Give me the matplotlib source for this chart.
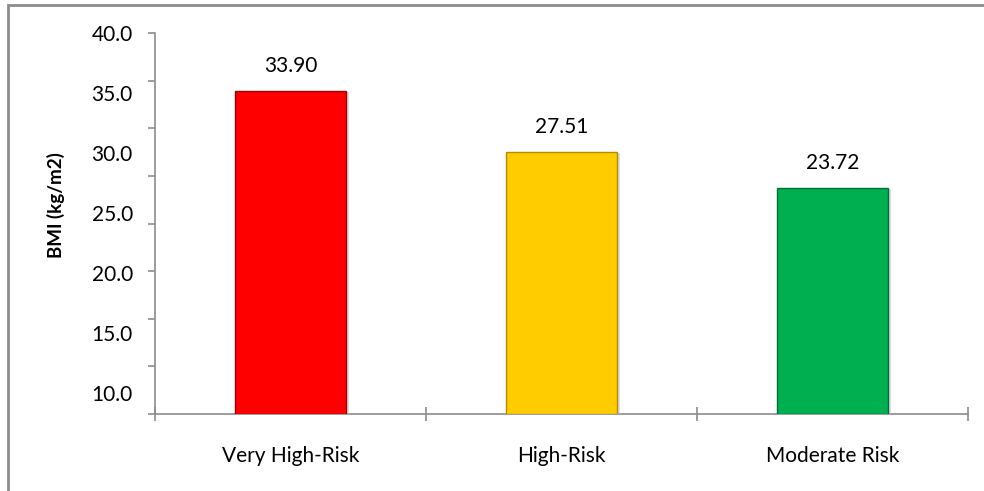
import matplotlib.pyplot as plt
import matplotlib.patheffects as pe
import numpy as np
from matplotlib.patches import Rectangle

plt.rcParams["font.family"] = ["Lato", "DejaVu Sans"]

groups = ["Very High-Risk", "High-Risk", "Moderate Risk"]
bmi = [33.90, 27.51, 23.72]
bar_colors = ["#ff0000", "#ffcc00", "#00b050"]
edge_colors = ["#a00000", "#b08c00", "#00703a"]

# axis scale and the (unevenly placed) labels printed along it
y_ticks = np.arange(0, 41, 5)
y_label_pos = [39.98, 33.7, 27.4, 21.1, 14.8, 8.5, 2.2]
y_label_txt = ["40.0", "35.0", "30.0", "25.0", "20.0", "15.0", "10.0"]

fig = plt.figure(figsize=(9.84, 4.91), dpi=100)
ax = fig.add_axes([155 / 984, 1 - 414 / 491, (968 - 155) / 984, (414 - 33) / 491])

# chart-area frame
fig.patches.append(Rectangle((8 / 984, -0.1), 1.2, 1 - 5 / 491 + 0.1,
                             transform=fig.transFigure, fill=False,
                             edgecolor="#8c8c8c", linewidth=2))

x = np.arange(len(groups))
bars = ax.bar(x, bmi, width=0.41, color=bar_colors, edgecolor=edge_colors,
              linewidth=1.0, zorder=3)
for b in bars:
    b.set_path_effects([pe.SimplePatchShadow(offset=(2, -1), shadow_rgbFace="#c8c8c8", alpha=0.6),
                        pe.Normal()])
for xi, v in zip(x, bmi):
    ax.text(xi, v + 2.6, f"{v:.2f}", ha="center", va="center", fontsize=15)

ax.set_xlim(-0.5, len(groups) - 0.5)
ax.set_ylim(0, 40)

ax.set_yticks(y_ticks)
ax.set_yticklabels([])
ax.set_yticks(y_label_pos, minor=True)
ax.set_yticklabels(y_label_txt, minor=True, fontsize=15)
ax.tick_params(axis="y", which="major", direction="out", length=5, color="#8c8c8c", width=1.2)
ax.tick_params(axis="y", which="minor", length=0, pad=16)

ax.set_xticks(np.arange(len(groups) + 1) - 0.5, minor=True)
ax.set_xticks(x)
ax.set_xticklabels(groups, fontsize=15)
ax.tick_params(axis="x", which="major", length=0, pad=23)
# ticks crossing below the axis line
ax.tick_params(axis="x", which="minor", direction="inout", length=10, color="#8c8c8c", width=1.2)

ax.set_ylabel("BMI (kg/m2)", fontsize=13.5, fontweight="bold")
ax.yaxis.set_label_coords(-0.111, 0.549)

for side in ["top", "right"]:
    ax.spines[side].set_visible(False)
for side in ["left", "bottom"]:
    ax.spines[side].set_color("#8c8c8c")
    ax.spines[side].set_linewidth(1.2)

fig.savefig("out.png", dpi=100)
